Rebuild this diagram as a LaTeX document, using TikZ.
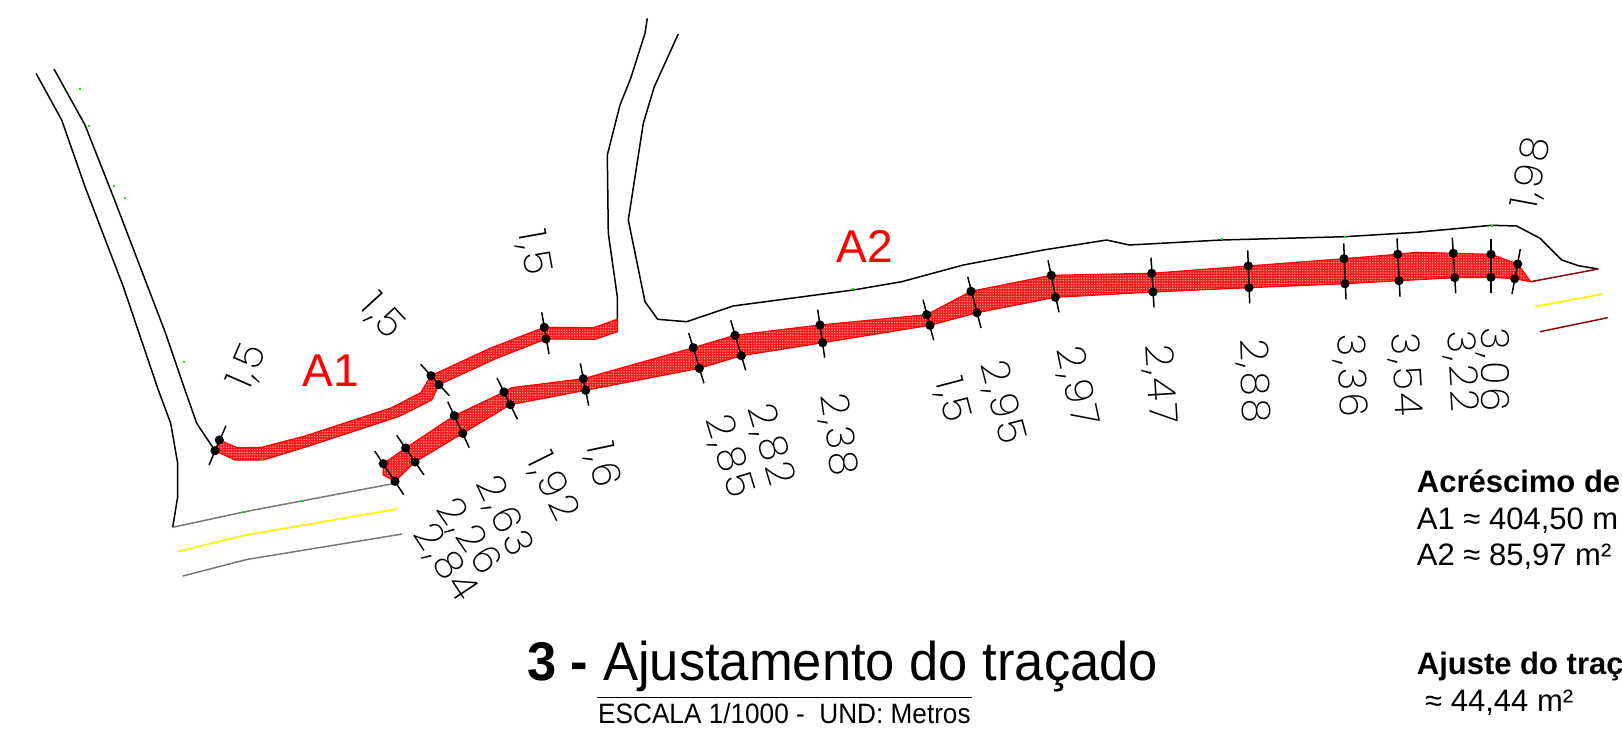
\documentclass[tikz,border=0pt]{standalone}
\usepackage{graphicx}
\usepackage{fontspec}
\usetikzlibrary{patterns.meta}
\setmainfont{Liberation Sans}
\newfontfamily\cad[LetterSpace=7,Kerning=Off]{Poppins ExtraLight}
\definecolor{areafill}{RGB}{250,25,25}
\definecolor{areadot}{RGB}{255,175,175}
\definecolor{roadgray}{RGB}{120,120,120}
\definecolor{roadyellow}{RGB}{255,245,0}
\definecolor{roaddark}{RGB}{140,10,10}
\definecolor{specgreen}{RGB}{0,235,0}
\tikzset{
  road/.style={black,line width=1.5pt,line join=round},
  area/.style={preaction={fill=areafill},pattern={Dots[radius=0.7pt,distance=2.6pt]},pattern color=areadot,draw=red,line width=1.2pt,line join=round},
  tickline/.style={black,line width=1.5pt},
  dim/.style={inner sep=0pt,font=\cad\fontsize{39}{39}\selectfont,text=black},
  areaname/.style={inner sep=0pt,text=red,font=\fontsize{46}{46}\selectfont},
  note/.style={inner sep=0pt,anchor=base west,font=\fontsize{31}{31}\selectfont},
}
\begin{document}
\begin{tikzpicture}[x=1pt,y=-1pt]
\useasboundingbox (0,0) rectangle (1622,741);
\clip (0,0) rectangle (1622,741);
% roads
\draw[road] (36,73.3)--(61.7,120)--(85,186.7)--(123.3,286.7)--(158.3,390)--(170.7,423.3)--(177.7,463.3)--(177.7,496.7)--(172.7,527.3);
\draw[road] (54,69)--(85,125)--(113.3,196.7)--(165,331.7)--(185,390)--(196.7,423.3)--(215,450.7);
\draw[road] (647.3,18.3)--(645,33.3)--(630.7,78.3)--(620,105)--(607.3,155)--(608.3,233.3)--(617.3,296.7)--(617.3,331.7);
\draw[road] (678.3,34)--(654.3,86.7)--(643.3,123.3)--(628.3,220)--(645,301.7)--(657.7,319.3)--(686.7,321.7)--(733,306)--(853.3,290)--(901.7,281.7)--(963.3,265)--(1043.3,250)--(1106.7,240)--(1129.3,245)--(1221.7,240)--(1345,236.7)--(1416.7,232.3)--(1491.7,225.3)--(1516.7,226)--(1540,238.3)--(1561.7,260)--(1578.3,265.7)--(1598.3,269);
\draw[roadgray,line width=1.5pt] (172.7,527.3)--(245,511.7)--(395,483.3);
\draw[roadyellow,line width=1.7pt] (177.3,551.7)--(243.3,535.5)--(397.7,509);
\draw[roadgray,line width=1.5pt] (182.7,576)--(246.7,559.5)--(402.3,534);
\draw[roaddark,line width=1.5pt] (1530.7,281.7)--(1598.3,269);
\draw[roadyellow,line width=1.7pt] (1535,306.7)--(1602.7,294);
\draw[roaddark,line width=1.5pt] (1540,331.7)--(1607.7,317.7);
% areas
\draw[area] (219.3,440)--(237.3,447.7)--(261.7,447.3)--(305,436)--(391.7,407.7)--(420.7,392.7)--(431,375.7)--(490,348.3)--(544.3,327.3)--(593.3,327.7)--(617.3,319.3)--(617.3,331.7)--(595,339.3)--(546,339)--(496.7,358.3)--(439,384.7)--(431.7,400)--(398.3,416.7)--(306.7,446.7)--(263.3,460)--(235,460)--(215,450.7)--cycle;
\draw[area] (383.3,463.7)--(405.7,448)--(454.3,415.7)--(504,392)--(511.7,387.7)--(583.3,378.7)--(693.3,347.7)--(735,335.3)--(820,325)--(926.7,314.7)--(971,291.3)--(1051.3,275.3)--(1151.7,273.3)--(1248.3,266)--(1344,258.7)--(1397.7,254.3)--(1416.7,252.3)--(1453.3,253.3)--(1491,254.3)--(1517.7,264)--(1530.7,281.7)--(1514.7,278.7)--(1491,277.3)--(1454.7,277.7)--(1399,280.7)--(1345,283.7)--(1249,287.7)--(1153,292)--(1055.3,297.3)--(977,312.7)--(930,325.3)--(822.7,342.7)--(741.3,355.7)--(699.3,368.3)--(585.7,390.3)--(510.3,404.7)--(462.7,433.3)--(415,462)--(395,481.3)--(383.3,475)--cycle;
% sections: end, dot, dot, end
\foreach \xa/\ya/\xb/\yb/\xc/\yc/\xd/\yd in {
226/425.7/219.3/440/215/450.7/209/465,
420.7/364.3/431/375.7/439/384.7/449.3/395.7,
541.7/312.3/544.3/327.3/546/339/549/354,
374.7/451/383.3/463.7/395/481.3/403.7/494.7,
396.7/435.3/405.7/448/415/462/424/475,
447.7/401.7/454.3/415.7/462.7/433.3/469.3/447.7,
497/378/504/392/510.3/404.7/517.3/419,
580.3/363.3/583.3/378.7/585.7/390.3/588.7/405.7,
688.7/333/693.3/347.7/699.3/368.3/704/383.3,
730.7/320.3/735/335.3/741.3/355.7/745.7/370.3,
817.7/309.7/820/325/822.7/342.7/824.7/357.7,
923/299.7/926.7/314.7/930/325.3/933.7/340.3,
967.7/276.7/971/291.3/977/312.7/981/328,
1048/260.3/1051.3/275.3/1055.3/297.3/1059/312.3,
1151/257.7/1151.7/273.3/1153/292/1154/307.3,
1247.7/250.3/1248.3/266/1249/287.7/1249.7/303.3,
1343.7/243.3/1344/258.7/1345/283.7/1346/299.3,
1397/238.3/1397.7/254.3/1399/280.7/1400/296.7,
1452.3/237.7/1453.3/253.3/1454.7/277.7/1455.7/293.3,
1491/239/1491/254.3/1491/277.3/1491/293,
1520.3/249/1517.7/264/1514.7/278.7/1512/294}{
  \draw[tickline] (\xa,\ya)--(\xd,\yd);
  \fill (\xb,\yb) circle[radius=4.6pt] (\xc,\yc) circle[radius=4.6pt];
}
% survey specks
\foreach \sx/\sy in {80/89,88.7/125.7,113.7/185.7,125/198.3,184.3/362,1221.7/239.3,853.3/289.3,261.7/460,245/511.7,303.3/501,1491.7/226,1345/236.7}{
  \fill[specgreen] (\sx-1,\sy-1) rectangle (\sx+1,\sy+1);
}
% dimensions
\node[dim,rotate=66.6] (d1) at (248,367) {1,5};
\node[dim,rotate=-47.5] (d2) at (381.7,316.7) {1,5};
\node[dim,rotate=-80] (d3) at (533,253) {1,5};
\node[dim,rotate=-56.4] (d4) at (445,563.3) {2,84};
\node[dim,rotate=-55.4] (d5) at (468.3,536.7) {2,26};
\node[dim,rotate=-64.8] (d6) at (503.3,516.7) {2,63};
\node[dim,rotate=-63.6] (d7) at (551.7,486.7) {1,92};
\node[dim,rotate=-78] (d8) at (601.7,465) {1,6};
\node[dim,rotate=-73] (d9) at (728.3,456.7) {2,85};
\node[dim,rotate=-73.3] (d10) at (770,445) {2,82};
\node[dim,rotate=-81.7] (d11) at (837.3,435) {2,38};
\node[dim,rotate=-75.3] (d12) at (951.7,400) {1,5};
\node[dim,rotate=-75.4] (d13) at (1001.7,402.7) {2,95};
\node[dim,rotate=-78] (d14) at (1076,386.7) {2,97};
\node[dim,rotate=-86.5] (d15) at (1159.3,384.3) {2,47};
\node[dim,rotate=-88] (d16) at (1253.3,380.7) {2,88};
\node[dim,rotate=-87.5] (d17) at (1350,376) {3,36};
\node[dim,rotate=-87] (d18) at (1405,374.7) {3,54};
\node[dim,rotate=-86.6] (d19) at (1460.7,371.3) {3,22};
\node[dim,rotate=-90] (d20) at (1492.7,370) {3,06};
\node[dim,rotate=79.5] (d21) at (1532.3,173.3) {1,98};
% area names
\node[areaname] (a1) at (331,371) {A1};
\node[areaname] (a2) at (865,246) {A2};
% notes
\node[note] (n1) at (1416.7,492.7) {\bfseries Acréscimo de};
\node[note] (n2) at (1416.7,529.3) {A1 ≈ 404,50 m};
\node[note] (n3) at (1416.7,565.3) {A2 ≈ 85,97 m²};
\node[note] (n4) at (1416.7,674) {\bfseries Ajuste do traç};
\node[note] (n5) at (1425,711) {≈ 44,44 m²};
% title
\node[inner sep=0pt,anchor=base west,font=\fontsize{54.5}{54.5}\selectfont] (t) at (527,680.6) {\scalebox{0.964}[1]{\textbf{3 -} Ajustamento do traçado}};
\draw[line width=1pt] (597,697)--(972,697);
\node[inner sep=0pt,anchor=base west,font=\fontsize{28}{28}\selectfont] (s) at (598,723) {\scalebox{0.935}[1]{ESCALA 1/1000 -\ \ UND: Metros}};
\end{tikzpicture}
\end{document}
